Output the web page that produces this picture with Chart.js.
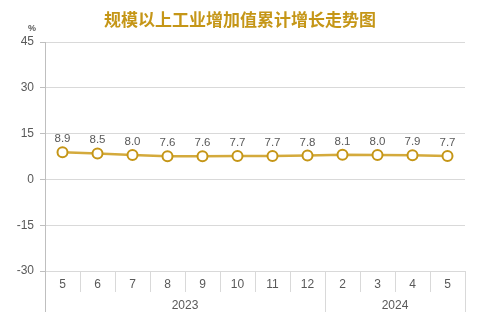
<!DOCTYPE html>
<html>
<head>
<meta charset="utf-8">
<script src="https://cdn.jsdelivr.net/npm/chart.js@4/dist/chart.umd.min.js"></script>
<style>
  html, body { margin: 0; padding: 0; background: #fff; }
  #wrap { width: 477px; height: 323px; position: relative; }
</style>
</head>
<body>
<div id="wrap"><canvas id="growthChart"></canvas></div>
<script>
const months = ["5", "6", "7", "8", "9", "10", "11", "12", "2", "3", "4", "5"];
const growth = [8.9, 8.5, 8.0, 7.6, 7.6, 7.7, 7.7, 7.8, 8.1, 8.0, 7.9, 7.7];
const years = [
  { label: "2023", from: 0, to: 7 },
  { label: "2024", from: 8, to: 11 }
];
const yTicks = { min: -30, max: 45, step: 15 };

const gold = "#c59617";
const textGray = "#595959";
const lineGray = "#d9d9d9";
const fontFamily = "'Liberation Sans', Arial, sans-serif";

// title, unit, point labels and the two-level category axis
const decorations = {
  id: "decorations",
  afterDraw(chart) {
    const ctx = chart.ctx;
    const area = chart.chartArea;
    const x = chart.scales.x;
    const meta = chart.getDatasetMeta(0);

    ctx.save();
    ctx.fillStyle = gold;
    ctx.font = "bold 17px 'Noto Sans CJK SC', sans-serif";
    ctx.textAlign = "center";
    ctx.textBaseline = "middle";
    ctx.fillText("规模以上工业增加值累计增长走势图", 240, 20);

    ctx.fillStyle = textGray;
    ctx.font = "bold 9px " + fontFamily;
    ctx.fillText("%", 32, 29);

    // value labels over the points
    ctx.font = "11.5px " + fontFamily;
    ctx.textBaseline = "alphabetic";
    meta.data.forEach((pt, i) => {
      ctx.fillText(growth[i].toFixed(1), pt.x, pt.y - 10);
    });

    // axis line running down through the category rows
    ctx.strokeStyle = "#bfbfbf";
    ctx.lineWidth = 1;
    ctx.beginPath();
    ctx.moveTo(area.left + 0.5, area.bottom);
    ctx.lineTo(area.left + 0.5, area.bottom + 41);
    ctx.stroke();

    const half = (x.getPixelForValue(1) - x.getPixelForValue(0)) / 2;
    const rowMid = area.bottom + 14;
    const yearMid = area.bottom + 35;

    // month row
    ctx.strokeStyle = lineGray;
    ctx.font = "12px " + fontFamily;
    ctx.textBaseline = "middle";
    months.forEach((m, i) => {
      const cx = x.getPixelForValue(i);
      ctx.fillText(m, cx, rowMid);
      const edge = Math.round(cx + half) + 0.5;
      ctx.beginPath();
      ctx.moveTo(edge, area.bottom);
      ctx.lineTo(edge, area.bottom + 21);
      ctx.stroke();
    });

    // year row
    years.forEach(yr => {
      const left = x.getPixelForValue(yr.from) - half;
      const right = x.getPixelForValue(yr.to) + half;
      ctx.fillText(yr.label, (left + right) / 2, yearMid);
      const edge = Math.round(right) + 0.5;
      ctx.beginPath();
      ctx.moveTo(edge, area.bottom);
      ctx.lineTo(edge, area.bottom + 41);
      ctx.stroke();
    });
    ctx.restore();
  }
};

new Chart(document.getElementById("growthChart"), {
  type: "line",
  data: {
    labels: months,
    datasets: [{
      data: growth,
      borderColor: "#d4aa3c",
      borderWidth: 2.5,
      pointRadius: 5,
      pointBorderWidth: 2,
      pointBorderColor: gold,
      pointBackgroundColor: "#fff",
      tension: 0
    }]
  },
  options: {
    responsive: true,
    maintainAspectRatio: false,
    animation: false,
    events: [],
    layout: { padding: { top: 42, right: 12, bottom: 52, left: 0 } },
    plugins: {
      legend: { display: false },
      tooltip: { enabled: false }
    },
    scales: {
      x: {
        type: "category",
        offset: true,
        display: false
      },
      y: {
        min: yTicks.min,
        max: yTicks.max,
        ticks: {
          stepSize: yTicks.step,
          color: textGray,
          font: { size: 12, family: fontFamily },
          padding: 6
        },
        grid: { color: lineGray, tickLength: 5, tickColor: "#bfbfbf" },
        border: { color: "#bfbfbf" },
        afterFit(scale) { scale.width = 45; }
      }
    }
  },
  plugins: [decorations]
});
</script>
</body>
</html>
